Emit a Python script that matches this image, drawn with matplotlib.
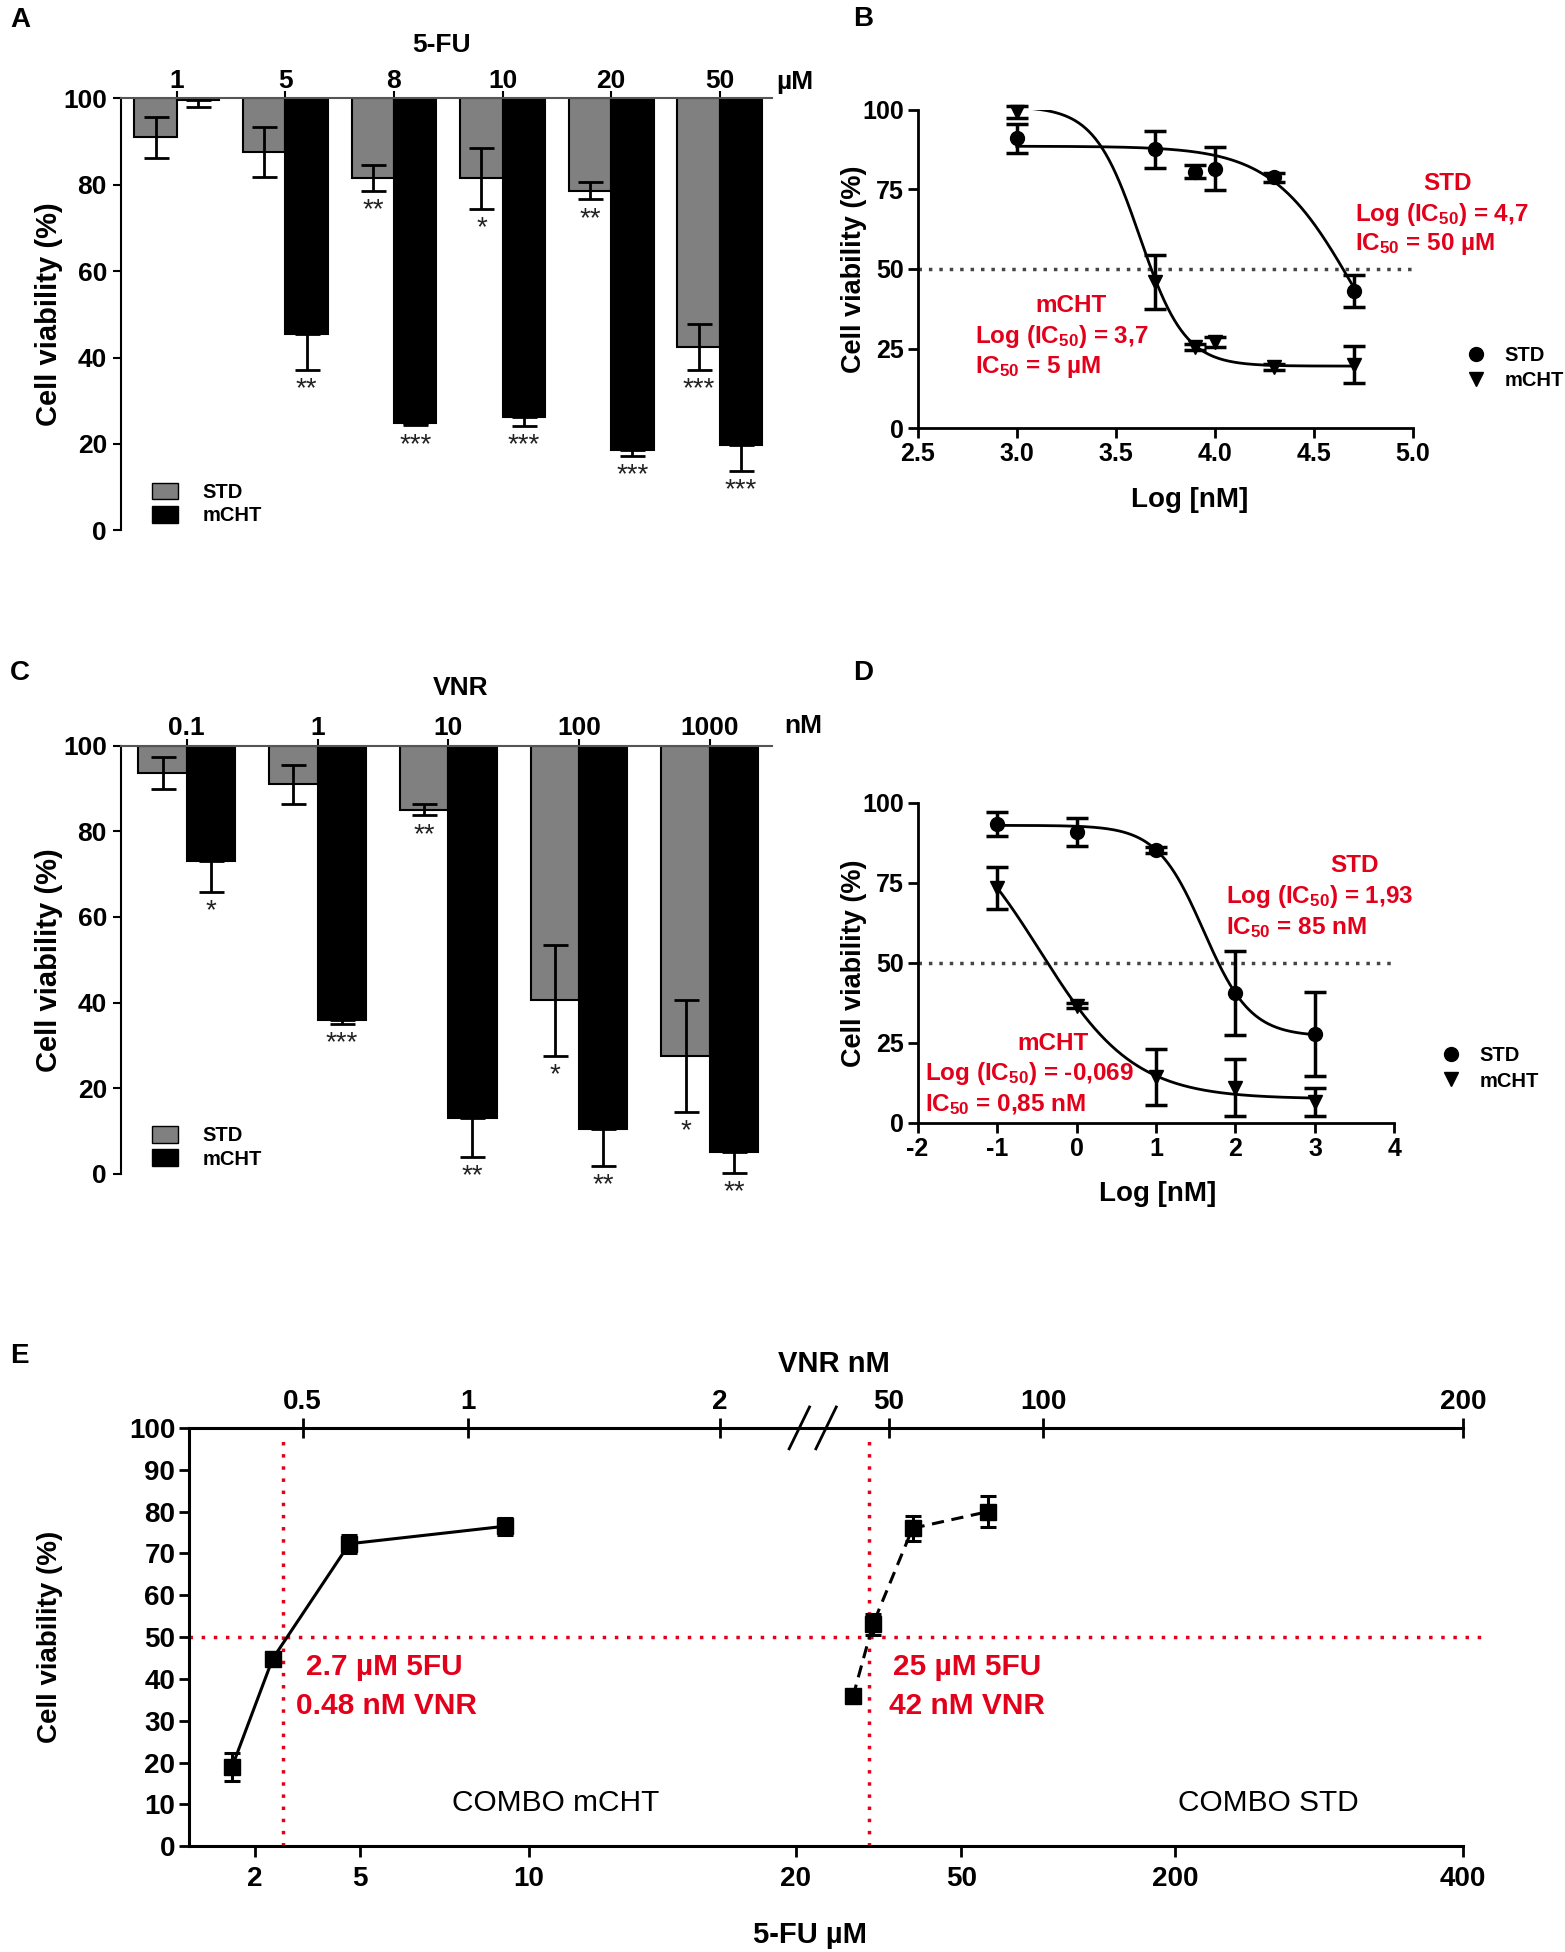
import numpy as np
import matplotlib
matplotlib.use("Agg")
import matplotlib.pyplot as plt
from matplotlib.patches import Patch
from matplotlib.lines import Line2D

plt.rcParams['font.family'] = ['Liberation Sans', 'DejaVu Sans']
plt.rcParams['font.weight'] = 'bold'
plt.rcParams['axes.unicode_minus'] = False
plt.rcParams['mathtext.fontset'] = 'custom'
plt.rcParams['mathtext.default'] = 'bf'
plt.rcParams['mathtext.bf'] = 'Liberation Sans:bold'
plt.rcParams['mathtext.rm'] = 'Liberation Sans:bold'

RED = '#E2001A'
GREY = '#808080'

# ---- panel A : 5-FU bars
fu_conc = ['1', '5', '8', '10', '20', '50']
fu_std = [91, 87.5, 81.5, 81.5, 78.6, 42.5]
fu_std_err = [4.7, 5.8, 3, 7, 2, 5.3]
fu_mcht = [99.6, 45.5, 24.8, 26.2, 18.5, 19.8]
fu_mcht_err = [1.6, 8.4, 0.5, 2, 1.3, 6]
fu_std_sig = ['', '', '**', '*', '**', '***']
fu_mcht_sig = ['', '**', '***', '***', '***', '***']

# ---- panel C : VNR bars
vnr_conc = ['0.1', '1', '10', '100', '1000']
vnr_std = [93.6, 91, 85, 40.5, 27.5]
vnr_std_err = [3.8, 4.5, 1.3, 13, 13]
vnr_mcht = [73, 36, 13, 10.5, 5.2]
vnr_mcht_err = [7.2, 1, 9, 8.7, 4.9]
vnr_std_sig = ['', '', '**', '*', '*']
vnr_mcht_sig = ['*', '***', '**', '**', '**']

# ---- panel B : 5-FU dose response (log nM)
b_logx = [3.0, 3.7, 3.9, 4.0, 4.3, 4.7]
b_std = [91, 87.5, 80.5, 81.5, 78.7, 43]
b_std_err = [4.6, 5.7, 2, 6.8, 1.5, 5]
b_mcht = [99.2, 46, 25.5, 27, 19.2, 20]
b_mcht_err = [2, 8.5, 1, 1.5, 1, 5.8]
# fitted curve parameters: top, bottom, logIC50, hill
b_std_fit = [88.5, 0, 4.7, 2.1]
b_mcht_fit = [101, 19.5, 3.62, 3.8]

# ---- panel D : VNR dose response (log nM)
d_logx = [-1, 0, 1, 2, 3]
d_std = [93.5, 91, 85.3, 40.6, 27.8]
d_std_err = [3.8, 4.3, 0.8, 13, 13]
d_mcht = [73.5, 36.6, 14.4, 11, 6.5]
d_mcht_err = [6.5, 0.8, 8.8, 9, 4.5]
d_std_fit = [93, 27, 1.6, 1.47]
d_mcht_fit = [100, 7.5, -0.46, 0.734]

# ---- panel E : combinations
combo_mcht_5fu = [1.3, 2.5, 4.7, 9.3]
combo_mcht_viab = [19, 44.8, 72.3, 76.5]
combo_mcht_err = [3.3, 1, 2.2, 2]
combo_std_5fu = [30.4, 34, 41.2, 69]
combo_std_viab = [35.8, 53, 76, 80]
combo_std_err = [0.8, 2.5, 3, 3.8]
combo_ic50_5fu = [2.8, 33.3]
fu_ticks = [2, 5, 10, 20, 50, 200, 400]
vnr_ticks = [0.5, 1, 2, 50, 100, 200]
# broken-axis anchors (value -> position along the axis)
fu_anchor_val = [0, 2, 5, 10, 20, 50, 200, 400]
fu_anchor_pos = [152, 205, 289, 425, 639, 772, 944, 1175]
vnr_anchor_val = [0.155, 0.5, 1, 2, 50, 100, 200]
vnr_anchor_pos = [152, 243, 376, 578, 714, 838, 1175]

W, H = 1257.0, 1568.0


def box(x0, y0, x1, y1):
    return [x0 / W, 1 - y1 / H, (x1 - x0) / W, (y1 - y0) / H]


def ftext(x, y, s, **kw):
    fig.text(x / W, 1 - y / H, s, **kw)


def logistic(x, p):
    top, bottom, logec, hill = p
    return bottom + (top - bottom) / (1 + 10 ** ((x - logec) * hill))


fig = plt.figure(figsize=(15.65, 19.52), dpi=100)


def bar_panel(rect, cats, std, std_err, mcht, mcht_err, std_sig, mcht_sig, width, xl):
    ax = fig.add_axes(rect)
    x = np.arange(len(cats))
    std = np.array(std)
    mcht = np.array(mcht)
    ax.bar(x - width / 2, std - 100, bottom=100, width=width, color=GREY,
           edgecolor='black', linewidth=1.5)
    ax.bar(x + width / 2, mcht - 100, bottom=100, width=width, color='black',
           edgecolor='black', linewidth=1.5)
    ax.errorbar(x - width / 2, std, yerr=std_err, fmt='none', ecolor='black',
                elinewidth=2, capsize=9, capthick=2)
    ax.errorbar(x + width / 2, mcht, yerr=[mcht_err, np.zeros(len(cats))], fmt='none',
                ecolor='black', elinewidth=2, capsize=9, capthick=2, clip_on=False)
    for i in range(len(cats)):
        ax.text(x[i] - width / 2, std[i] - std_err[i] - 1.5, std_sig[i], ha='center',
                va='top', fontsize=20, fontweight='normal', color='#222222')
        ax.text(x[i] + width / 2, mcht[i] - mcht_err[i] - 1.5, mcht_sig[i], ha='center',
                va='top', fontsize=20, fontweight='normal', color='#222222')
    ax.set_xlim(*xl)
    ax.set_ylim(0, 100)
    ax.spines['bottom'].set_visible(False)
    ax.spines['right'].set_visible(False)
    ax.spines['top'].set_color('#555555')
    ax.spines['top'].set_linewidth(1.5)
    ax.spines['left'].set_linewidth(1.5)
    ax.xaxis.set_ticks_position('top')
    ax.set_xticks(x)
    ax.set_xticklabels(cats)
    ax.tick_params(axis='x', length=5, width=1.5, pad=-1, labelsize=19)
    ax.set_yticks(range(0, 101, 20))
    ax.tick_params(axis='y', length=6, width=1.5, labelsize=19, pad=4)
    ax.set_ylabel('Cell viability (%)', fontsize=21, fontweight='bold')
    ax.yaxis.set_label_coords(-0.088, 0.5)
    ax.legend([Patch(facecolor=GREY, edgecolor='black'), Patch(facecolor='black', edgecolor='black')],
              ['STD', 'mCHT'], loc='lower left', bbox_to_anchor=(0.02, -0.03), frameon=False,
              fontsize=14.5, handlelength=1.3, handleheight=0.9, labelspacing=0.2,
              handletextpad=1.2)
    return ax


def curve_panel(rect, xs, std, std_err, mcht, mcht_err, std_fit, mcht_fit, xl, xt, fmt, yl_x):
    ax = fig.add_axes(rect)
    ax.axhline(50, color='#444444', ls=(0, (1, 2)), lw=2.5)
    xf = np.linspace(xs[0], xs[-1], 300)
    ax.plot(xf, logistic(xf, std_fit), color='black', lw=2)
    ax.plot(xf, logistic(xf, mcht_fit), color='black', lw=2)
    ax.errorbar(xs, std, yerr=std_err, fmt='o', color='black', ms=10, elinewidth=2.5,
                capsize=8, capthick=2.5, clip_on=False)
    ax.errorbar(xs, mcht, yerr=mcht_err, fmt='v', color='black', ms=10, elinewidth=2.5,
                capsize=8, capthick=2.5, clip_on=False)
    ax.set_xlim(*xl)
    ax.set_ylim(0, 100)
    ax.set_xticks(xt)
    ax.set_xticklabels([fmt % v for v in xt])
    ax.set_yticks([0, 25, 50, 75, 100])
    for s in ['top', 'right']:
        ax.spines[s].set_visible(False)
    for s in ['left', 'bottom']:
        ax.spines[s].set_linewidth(2)
    ax.tick_params(length=7, width=2, labelsize=18, pad=3)
    ax.set_ylabel('Cell viability (%)', fontsize=19.5, fontweight='bold')
    ax.yaxis.set_label_coords(yl_x, 0.5)
    ax.set_xlabel('Log [nM]', fontsize=20, fontweight='bold')
    return ax


# ---------------- A
axA = bar_panel(box(97, 79, 620, 426), fu_conc, fu_std, fu_std_err, fu_mcht, fu_mcht_err,
                fu_std_sig, fu_mcht_sig, 0.39, (-0.516, 5.48))
ftext(8, 16, 'A', fontsize=20, fontweight='bold', va='center')
ftext(355, 36, '5-FU', fontsize=19, ha='center', va='center')
ftext(638, 66, 'µM', fontsize=19, ha='center', va='center')

# ---------------- C
axC = bar_panel(box(97, 599, 620, 943), vnr_conc, vnr_std, vnr_std_err, vnr_mcht, vnr_mcht_err,
                vnr_std_sig, vnr_mcht_sig, 0.37, (-0.505, 4.476))
ftext(8, 541, 'C', fontsize=20, fontweight='bold', va='center')
ftext(370, 553, 'VNR', fontsize=19, ha='center', va='center')
ftext(645, 583, 'nM', fontsize=19, ha='center', va='center')

# ---------------- B
axB = curve_panel(box(737, 88, 1135, 344), b_logx, b_std, b_std_err, b_mcht, b_mcht_err,
                  b_std_fit, b_mcht_fit, (2.5, 5.0), [2.5, 3.0, 3.5, 4.0, 4.5, 5.0], '%.1f', -0.103)
axB.xaxis.set_label_coords(0.548, -0.184)
ftext(685, 15, 'B', fontsize=20, fontweight='bold', va='center')
axB.legend([Line2D([], [], marker='o', color='black', ls='none', ms=10),
            Line2D([], [], marker='v', color='black', ls='none', ms=10)],
           ['STD', 'mCHT'], loc='center left', bbox_to_anchor=(1.07, 0.19), frameon=False,
           fontsize=14.5, handlelength=1.0, labelspacing=0.3, handletextpad=0.9)
ftext(1163, 147, 'STD', color=RED, fontsize=17.5, ha='center', va='center')
ftext(1088, 172, 'Log (IC$_{50}$) = 4,7', color=RED, fontsize=17.5, va='center')
ftext(1088, 196, 'IC$_{50}$ = 50 µM', color=RED, fontsize=17.5, va='center')
ftext(860, 245, 'mCHT', color=RED, fontsize=17.5, ha='center', va='center')
ftext(783, 270, 'Log (IC$_{50}$) = 3,7', color=RED, fontsize=17.5, va='center')
ftext(783, 295, 'IC$_{50}$ = 5 µM', color=RED, fontsize=17.5, va='center')

# ---------------- D
axD = curve_panel(box(737, 645, 1120, 902), d_logx, d_std, d_std_err, d_mcht, d_mcht_err,
                  d_std_fit, d_mcht_fit, (-2, 4), [-2, -1, 0, 1, 2, 3, 4], '%d', -0.107)
axD.xaxis.set_label_coords(0.504, -0.183)
ftext(685, 541, 'D', fontsize=20, fontweight='bold', va='center')
axD.legend([Line2D([], [], marker='o', color='black', ls='none', ms=10),
            Line2D([], [], marker='v', color='black', ls='none', ms=10)],
           ['STD', 'mCHT'], loc='center left', bbox_to_anchor=(1.06, 0.17), frameon=False,
           fontsize=14.5, handlelength=1.0, labelspacing=0.3, handletextpad=0.9)
ftext(1088, 695, 'STD', color=RED, fontsize=17.5, ha='center', va='center')
ftext(985, 720, 'Log (IC$_{50}$) = 1,93', color=RED, fontsize=17.5, va='center')
ftext(985, 745, 'IC$_{50}$ = 85 nM', color=RED, fontsize=17.5, va='center')
ftext(846, 838, 'mCHT', color=RED, fontsize=17.5, ha='center', va='center')
ftext(743, 862, 'Log (IC$_{50}$) = -0,069', color=RED, fontsize=17.5, va='center')
ftext(743, 887, 'IC$_{50}$ = 0,85 nM', color=RED, fontsize=17.5, va='center')

# ---------------- E
def fu_fwd(v):
    return np.interp(v, fu_anchor_val, fu_anchor_pos)


def fu_inv(p):
    return np.interp(p, fu_anchor_pos, fu_anchor_val)


def vnr_fwd(v):
    return np.interp(v, vnr_anchor_val, vnr_anchor_pos)


def vnr_inv(p):
    return np.interp(p, vnr_anchor_pos, vnr_anchor_val)


axE = fig.add_axes(box(152, 1147, 1175, 1483))
axE.set_xscale('function', functions=(fu_fwd, fu_inv))
axE.set_xlim(0, 400)
axE.set_ylim(0, 100)
axE.axhline(50, xmin=0, xmax=1.02, color=RED, ls=(0, (1, 2.5)), lw=2.5, clip_on=False)
for v in combo_ic50_5fu:
    axE.plot([v, v], [0, 97], color=RED, ls=(0, (1, 2.5)), lw=2.5)
axE.errorbar(combo_mcht_5fu, combo_mcht_viab, yerr=combo_mcht_err, fmt='s-', color='black',
             ms=11, lw=2.2, elinewidth=2.2, capsize=6, capthick=2.2)
axE.errorbar(combo_std_5fu, combo_std_viab, yerr=combo_std_err, fmt='s', color='black',
             ms=11, elinewidth=2.2, capsize=6, capthick=2.2)
axE.plot(combo_std_5fu, combo_std_viab, color='black', lw=2.2, ls=(0, (4, 2.5)))
axE.set_xticks(fu_ticks)
axE.set_xticklabels([str(v) for v in fu_ticks])
axE.set_yticks(range(0, 101, 10))
axE.spines['right'].set_visible(False)
for s in ['left', 'bottom', 'top']:
    axE.spines[s].set_linewidth(2.2)
axE.tick_params(axis='x', length=8, width=2, labelsize=20, pad=6)
axE.tick_params(axis='y', length=7, width=2, labelsize=20, pad=3)
axE.set_ylabel('Cell viability (%)', fontsize=20, fontweight='bold')
axE.yaxis.set_label_coords(-0.099, 0.5)
axE.set_xlabel('5-FU µM', fontsize=21, fontweight='bold')
axE.xaxis.set_label_coords(0.487, -0.179)

axE2 = axE.twiny()
axE2.set_xscale('function', functions=(vnr_fwd, vnr_inv))
axE2.set_xlim(vnr_anchor_val[0], 200)
axE2.set_xticks(vnr_ticks)
axE2.set_xticklabels([('%g' % v) for v in vnr_ticks])
for s in axE2.spines.values():
    s.set_visible(False)
axE2.tick_params(axis='x', direction='inout', length=14, width=2, labelsize=20, pad=2)
axE2.set_xlabel('VNR nM', fontsize=21, fontweight='bold')
axE2.xaxis.set_label_coords(0.506, 1.134)

# axis break marks on the top axis
for dx in [0.0, 0.021]:
    axE.plot([0.471 + dx, 0.487 + dx], [0.95, 1.05], transform=axE.transAxes, color='black',
             lw=2, clip_on=False)

ftext(246, 1339, '2.7 µM 5FU', color=RED, fontsize=21.5, va='center')
ftext(238, 1370, '0.48 nM VNR', color=RED, fontsize=21.5, va='center')
ftext(717, 1339, '25 µM 5FU', color=RED, fontsize=21.5, va='center')
ftext(714, 1370, '42 nM VNR', color=RED, fontsize=21.5, va='center')
ftext(446, 1448, 'COMBO mCHT', fontsize=21.5, fontweight='normal', ha='center', va='center')
ftext(1019, 1448, 'COMBO STD', fontsize=21.5, fontweight='normal', ha='center', va='center')
ftext(8, 1089, 'E', fontsize=20, fontweight='bold', va='center')

fig.savefig('out.png', dpi=100)
